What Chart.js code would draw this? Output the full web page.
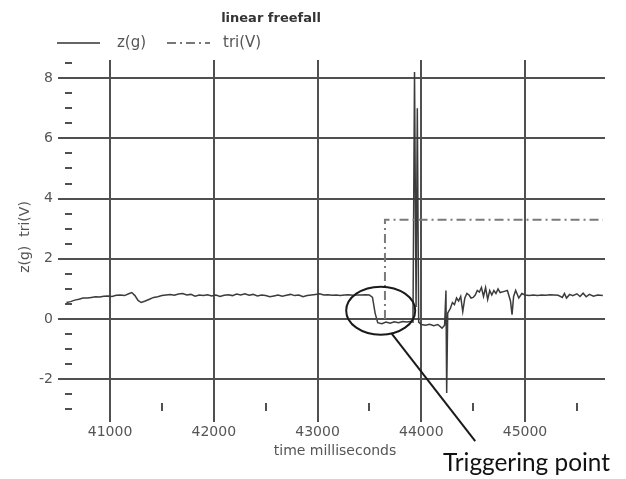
<!DOCTYPE html>
<html>
<head>
<meta charset="utf-8">
<script src="https://cdn.jsdelivr.net/npm/chart.js@4/dist/chart.umd.min.js"></script>
<style>
  html, body { margin: 0; padding: 0; background: #ffffff; }
  #wrap { position: relative; width: 626px; height: 479px; }
</style>
</head>
<body>
<div id="wrap"><canvas id="c" width="626" height="479"></canvas></div>
<script>
// ---- data ----
const times = [40580,40620,40660,40700,40740,40780,40820,40860,40900,40940,40980,41020,41060,41100,41140,41180,41210,41240,41270,41300,41340,41380,41420,41460,41500,41540,41580,41620,41660,41700,41740,41780,41820,41860,41900,41940,41980,42020,42060,42100,42140,42180,42220,42260,42300,42340,42380,42420,42460,42500,42540,42580,42620,42660,42700,42740,42780,42820,42860,42900,42940,42980,43020,43060,43100,43140,43180,43220,43260,43300,43340,43380,43420,43460,43500,43530,43555,43580,43620,43660,43700,43740,43780,43820,43860,43900,43920,43935,43950,43962,43975,44000,44040,44080,44120,44160,44200,44225,44238,44245,44255,44280,44300,44320,44340,44360,44380,44400,44420,44440,44460,44480,44500,44520,44540,44560,44580,44600,44620,44640,44660,44680,44700,44720,44740,44760,44800,44830,44860,44875,44890,44910,44940,44970,45000,45040,45080,45120,45160,45200,45240,45280,45320,45360,45380,45400,45430,45460,45500,45530,45560,45590,45620,45660,45700,45750];
const zValues = [0.55,0.58,0.63,0.66,0.70,0.70,0.72,0.74,0.73,0.76,0.77,0.75,0.79,0.80,0.78,0.84,0.88,0.78,0.62,0.55,0.60,0.66,0.72,0.74,0.78,0.80,0.82,0.79,0.83,0.85,0.80,0.82,0.76,0.80,0.78,0.81,0.77,0.80,0.75,0.79,0.81,0.78,0.83,0.80,0.84,0.79,0.82,0.77,0.80,0.78,0.74,0.77,0.80,0.76,0.79,0.82,0.78,0.80,0.74,0.78,0.80,0.82,0.84,0.80,0.81,0.79,0.80,0.78,0.80,0.81,0.79,0.80,0.80,0.81,0.80,0.72,0.20,-0.12,-0.15,-0.10,-0.14,-0.09,-0.12,-0.08,-0.10,-0.08,-0.10,8.20,0.40,7.00,-0.10,-0.18,-0.20,-0.17,-0.22,-0.18,-0.30,-0.20,0.95,-2.45,0.20,0.35,0.55,0.48,0.70,0.60,0.75,0.25,0.70,0.85,0.80,0.70,0.72,0.80,0.95,0.90,1.05,0.75,1.05,0.65,0.95,0.80,0.95,0.85,1.00,0.88,0.92,0.95,0.60,0.15,0.75,0.95,0.70,0.85,0.80,0.78,0.80,0.78,0.80,0.79,0.81,0.80,0.79,0.72,0.85,0.70,0.82,0.78,0.84,0.75,0.86,0.74,0.82,0.76,0.80,0.78];
const triTimes = [40580, 43650, 43650, 45750];
const triValues = [0, 0, 3.3, 3.3];

const xTickValues = [41000, 42000, 43000, 44000, 45000];
const yTickValues = [-2, 0, 2, 4, 6, 8];
const xMinorValues = [41500, 42500, 43500, 44500, 45500];
const yMinorValues = [-3, -2.5, -1.5, -1, -0.5, 0.5, 1, 1.5, 2.5, 3, 3.5, 4.5, 5, 5.5, 6.5, 7, 7.5, 8.5];

const seriesNames = ['z(g)', 'tri(V)'];
const titleText = 'linear freefall';
const xTitle = 'time milliseconds';
const yTitle = 'z(g)  tri(V)';
const noteText = 'Triggering point';
// annotation anchor (data coords): ellipse around the trigger, pointer line end
const noteCenter = { x: 43609, y: 0.28 };
const notePointerStart = { x: 43715, y: -0.48 };
const notePointerEnd = { x: 44520, y: -4.05 };

const GRID = '#505050';
const TEXT = '#555555';
const FONT = 'DejaVu Sans';

const decor = {
  id: 'decor',
  beforeDatasetsDraw(chart) {
    const { ctx, chartArea: a, scales: { x, y } } = chart;
    ctx.save();
    ctx.strokeStyle = GRID;
    ctx.lineWidth = 2;
    ctx.beginPath();
    yMinorValues.forEach(v => {
      const py = Math.round(y.getPixelForValue(v));
      ctx.moveTo(a.left, py); ctx.lineTo(a.left + 7, py);
    });
    xMinorValues.forEach(v => {
      const px = Math.round(x.getPixelForValue(v));
      if (px > a.right) return;
      ctx.moveTo(px, a.bottom - 11); ctx.lineTo(px, a.bottom - 3);
    });
    ctx.stroke();
    ctx.restore();
  },
  afterDraw(chart) {
    const { ctx, scales: { x, y } } = chart;
    ctx.save();
    // title
    ctx.fillStyle = '#333';
    ctx.font = 'bold 13px "' + FONT + '"';
    ctx.textAlign = 'center';
    ctx.textBaseline = 'middle';
    ctx.fillText(titleText, 271, 19);
    // legend
    const ly = 43;
    ctx.font = '15px "' + FONT + '"';
    ctx.textAlign = 'left';
    ctx.fillStyle = TEXT;
    ctx.lineWidth = 2;
    ctx.strokeStyle = '#666';
    ctx.beginPath(); ctx.moveTo(57, ly); ctx.lineTo(100, ly); ctx.stroke();
    ctx.fillText(seriesNames[0], 117, ly);
    ctx.setLineDash([9, 4, 2, 4]);
    ctx.strokeStyle = '#777';
    ctx.beginPath(); ctx.moveTo(167, ly); ctx.lineTo(210, ly); ctx.stroke();
    ctx.setLineDash([]);
    ctx.fillText(seriesNames[1], 223, ly);
    // annotation ellipse + pointer
    const cx = x.getPixelForValue(noteCenter.x), cy = y.getPixelForValue(noteCenter.y);
    ctx.strokeStyle = '#1a1a1a';
    ctx.lineWidth = 2;
    ctx.beginPath();
    ctx.ellipse(cx, cy, 34.5, 24, 0, 0, Math.PI * 2);
    ctx.stroke();
    ctx.beginPath();
    ctx.moveTo(x.getPixelForValue(notePointerStart.x), y.getPixelForValue(notePointerStart.y));
    ctx.lineTo(x.getPixelForValue(notePointerEnd.x), y.getPixelForValue(notePointerEnd.y));
    ctx.stroke();
    // note text
    let fs = 20;
    ctx.font = fs + 'px Lato';
    const w = ctx.measureText(noteText).width;
    fs = fs * 167 / w;
    ctx.font = fs.toFixed(2) + 'px Lato';
    ctx.fillStyle = '#111';
    ctx.textAlign = 'left';
    ctx.textBaseline = 'middle';
    ctx.fillText(noteText, 443, 463);
    ctx.restore();
  }
};

const toPts = (xs, ys) => xs.map((t, i) => ({ x: t, y: ys[i] }));

new Chart(document.getElementById('c'), {
  type: 'line',
  data: {
    datasets: [
      {
        label: seriesNames[1],
        data: toPts(triTimes, triValues),
        borderColor: '#7a7a7a',
        borderWidth: 2,
        borderDash: [9, 4, 2, 4],
        pointRadius: 0,
        tension: 0,
        fill: false,
        // the zero stretch sits on the 0 grid line in the reference and is hidden by it
        segment: {
          borderColor: c => (c.p0.parsed.y === 0 && c.p1.parsed.y === 0) ? GRID : undefined
        }
      },
      {
        label: seriesNames[0],
        data: toPts(times, zValues),
        borderColor: '#3c3c3c',
        borderWidth: 1.5,
        pointRadius: 0,
        tension: 0,
        fill: false
      }
    ]
  },
  options: {
    responsive: false,
    animation: false,
    events: [],
    layout: { padding: { top: 60, right: 21, left: 0, bottom: 0 } },
    plugins: {
      legend: { display: false },
      title: { display: false },
      tooltip: { enabled: false }
    },
    scales: {
      x: {
        type: 'linear',
        min: 40566,
        max: 45771,
        afterFit(s) { s.height = 65; },
        afterBuildTicks(s) { s.ticks = xTickValues.map(v => ({ value: v })); },
        border: { display: false },
        grid: { color: GRID, lineWidth: 2, tickLength: 8, drawTicks: true },
        ticks: {
          color: TEXT,
          font: { family: FONT, size: 14 },
          padding: 2,
          maxRotation: 0,
          autoSkip: false,
          callback: v => String(v)
        },
        title: {
          display: true,
          text: xTitle,
          color: TEXT,
          font: { family: FONT, size: 14 },
          padding: { top: 0, bottom: 19 }
        }
      },
      y: {
        type: 'linear',
        min: -3.15,
        max: 8.6,
        afterFit(s) { s.width = 65; },
        afterBuildTicks(s) { s.ticks = yTickValues.map(v => ({ value: v })); },
        border: { display: false },
        grid: { color: GRID, lineWidth: 2, tickLength: 7, drawTicks: true },
        ticks: {
          color: TEXT,
          font: { family: FONT, size: 14 },
          padding: 5,
          callback: v => String(v)
        },
        title: {
          display: true,
          text: yTitle,
          color: TEXT,
          font: { family: FONT, size: 14 },
          padding: { top: 17, bottom: 0 }
        }
      }
    }
  },
  plugins: [decor]
});
</script>
</body>
</html>
